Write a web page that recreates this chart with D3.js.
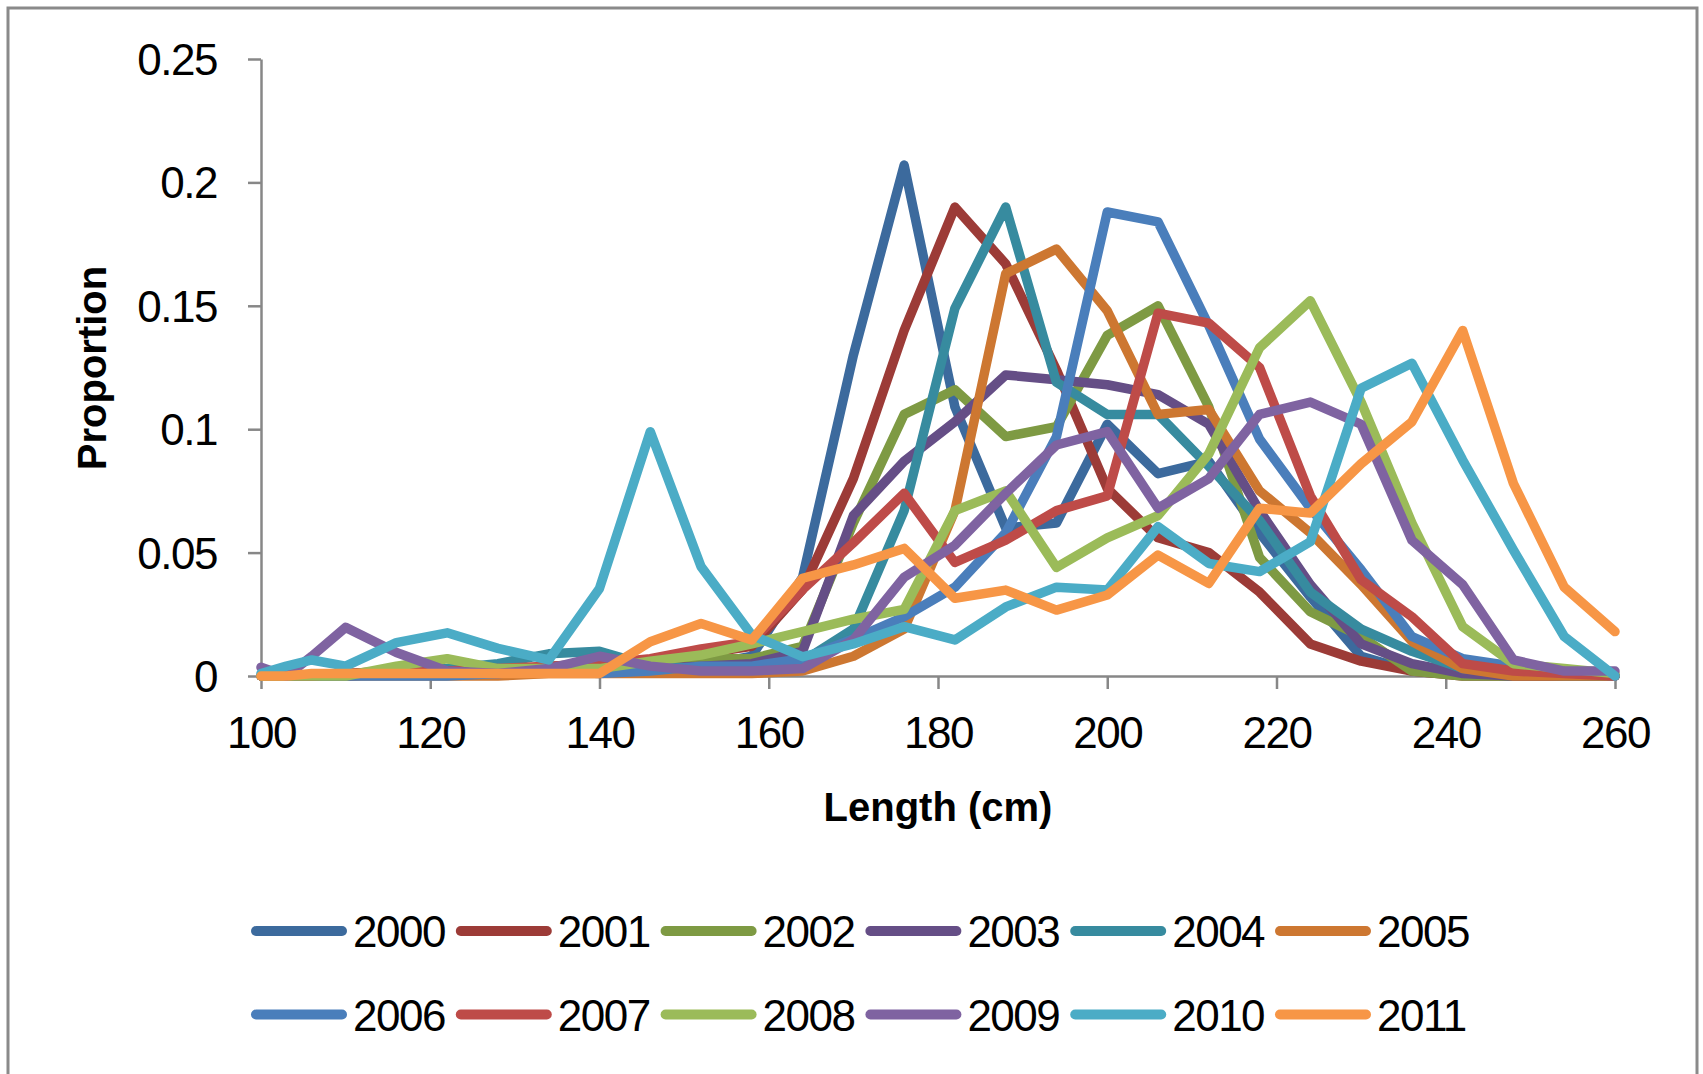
<!DOCTYPE html>
<html><head><meta charset="utf-8">
<script src="https://cdn.jsdelivr.net/npm/d3@7"></script>
<style>body{margin:0;background:#fff;} svg{display:block;}</style>
</head><body>
<script>
// Length classes (cm)
const lengths = [100,103,106,110,116,122,128,134,140,146,152,158,164,170,176,182,188,194,200,206,212,218,224,230,236,242,248,254,260];

const years = ["2000","2001","2002","2003","2004","2005","2006","2007","2008","2009","2010","2011"];

const s2000 = [0,0,0,0,0.001,0.001,0.002,0.004,0.005,0.003,0.004,0.008,0.040,0.130,0.207,0.109,0.060,0.062,0.102,0.082,0.087,0.058,0.032,0.008,0.002,0.001,0,0,0];
const s2001 = [0,0,0,0,0.001,0.001,0.002,0.003,0.004,0.006,0.009,0.012,0.035,0.080,0.140,0.190,0.167,0.124,0.076,0.056,0.050,0.034,0.013,0.006,0.002,0,0,0,0];
const s2002 = [0,0,0,0.001,0.002,0.003,0.002,0.003,0.005,0.006,0.007,0.007,0.012,0.062,0.106,0.116,0.097,0.101,0.138,0.150,0.109,0.048,0.026,0.016,0.002,0,0,0,0];
const s2003 = [0,0,0,0,0.001,0.001,0.002,0.002,0.003,0.003,0.004,0.005,0.010,0.065,0.087,0.103,0.122,0.120,0.118,0.114,0.102,0.067,0.037,0.013,0.005,0.001,0,0,0];
const s2004 = [0,0,0,0,0.002,0.003,0.005,0.009,0.010,0.004,0.003,0.003,0.006,0.019,0.067,0.149,0.190,0.119,0.106,0.106,0.085,0.063,0.034,0.019,0.010,0.003,0.001,0,0];
const s2005 = [0,0,0,0,0,0,0,0.001,0.001,0.001,0.001,0.001,0.002,0.008,0.019,0.067,0.163,0.173,0.148,0.106,0.108,0.075,0.058,0.037,0.014,0.003,0,0,0];
const s2006 = [0,0,0,0,0,0,0.001,0.002,0.001,0.002,0.004,0.004,0.007,0.015,0.024,0.036,0.058,0.097,0.188,0.184,0.142,0.096,0.068,0.043,0.016,0.007,0.004,0.002,0];
const s2007 = [0,0,0,0.001,0.002,0.002,0.003,0.004,0.005,0.007,0.011,0.014,0.035,0.054,0.074,0.046,0.055,0.067,0.073,0.147,0.143,0.125,0.073,0.039,0.024,0.005,0.002,0.001,0];
const s2008 = [0,0,0,0,0.004,0.007,0.003,0.003,0.003,0.006,0.0085,0.013,0.018,0.023,0.027,0.067,0.075,0.044,0.056,0.065,0.090,0.133,0.152,0.111,0.062,0.020,0.005,0.003,0.001];
const s2009 = [0.0035,0,0.008,0.0197,0.0095,0.002,0.001,0.003,0.008,0.004,0.002,0.002,0.003,0.0146,0.040,0.053,0.074,0.0936,0.099,0.068,0.080,0.106,0.111,0.102,0.055,0.037,0.0065,0.002,0.002];
const s2010 = [0.001,0.004,0.0065,0.004,0.0135,0.0175,0.0112,0.0065,0.0355,0.099,0.0443,0.0166,0.0078,0.013,0.020,0.0146,0.028,0.036,0.0348,0.0605,0.0456,0.0423,0.0544,0.1166,0.1267,0.0875,0.051,0.016,0];
const s2011 = [0,0,0.001,0.001,0.001,0.001,0.001,0.001,0.001,0.0139,0.0213,0.0146,0.0396,0.045,0.0517,0.0315,0.0348,0.0267,0.0328,0.049,0.0375,0.068,0.066,0.086,0.103,0.140,0.078,0.036,0.018];

const seriesValues = [s2000,s2001,s2002,s2003,s2004,s2005,s2006,s2007,s2008,s2009,s2010,s2011];
const colors = ["#3C6A9D","#9C3B37","#7E9A43","#654E86","#378B9F","#CD7731","#4A7EBB","#BE4B48","#9BBB59","#7F63A1","#4BACC6","#F79646"];

const xTicks = [100,120,140,160,180,200,220,240,260];
const yTicks = [0,0.05,0.1,0.15,0.2,0.25];
const yTickLabels = ["0","0.05","0.1","0.15","0.2","0.25"];
const xTitle = "Length (cm)";
const yTitle = "Proportion";

const W = 1703, H = 1074;
const FONT = "'Liberation Sans', Arial, sans-serif";
const svg = d3.select("body").append("svg").attr("width", W).attr("height", H);
svg.append("rect").attr("width", W).attr("height", H).attr("fill", "#fff");
svg.append("rect").attr("x", 8).attr("y", 8).attr("width", 1689).attr("height", 1200)
  .attr("fill", "none").attr("stroke", "#8a8a8a").attr("stroke-width", 3);

const x = d3.scaleLinear().domain([100, 260]).range([261, 1615]);
const y = d3.scaleLinear().domain([0, 0.25]).range([676, 59]);

const AX = "#878787";
// Y axis
const gy = svg.append("g").attr("transform", "translate(261,0)")
  .call(d3.axisLeft(y).tickValues(yTicks).tickFormat((d, i) => yTickLabels[i]).tickSize(13).tickSizeOuter(0).tickPadding(31));
// X axis
const gx = svg.append("g").attr("transform", "translate(0,676)")
  .call(d3.axisBottom(x).tickValues(xTicks).tickFormat(d3.format("d")).tickSize(13).tickSizeOuter(0).tickPadding(28));

[gx, gy].forEach(g => {
  g.select(".domain").attr("stroke", AX).attr("stroke-width", 2.5);
  g.selectAll(".tick line").attr("stroke", AX).attr("stroke-width", 2.5);
  g.selectAll(".tick text").attr("fill", "#000").style("font-family", FONT).style("font-size", "44px").style("letter-spacing", "-1.5px");
});
gy.selectAll(".tick text").attr("dy", "0.35em");

// Titles
svg.append("text").attr("x", 938).attr("y", 821).attr("text-anchor", "middle")
  .style("font-family", FONT).style("font-size", "40px").style("font-weight", "bold").text(xTitle);
svg.append("text").attr("transform", "translate(106,368) rotate(-90)").attr("text-anchor", "middle")
  .style("font-family", FONT).style("font-size", "40px").style("font-weight", "bold").text(yTitle);

// Lines
const line = d3.line().x((d, i) => x(lengths[i])).y(d => y(d));
svg.append("g").selectAll("path").data(seriesValues).join("path")
  .attr("d", line).attr("fill", "none").attr("stroke", (d, i) => colors[i])
  .attr("stroke-width", 9.5).attr("stroke-linejoin", "round").attr("stroke-linecap", "round");

// Legend
const leg = svg.append("g");
years.forEach((yr, i) => {
  const col = i % 6, row = Math.floor(i / 6);
  const lx = 251 + col * 204.8, ly = 931 + row * 83.5;
  leg.append("line").attr("x1", lx + 5).attr("x2", lx + 91).attr("y1", ly).attr("y2", ly)
    .attr("stroke", colors[i]).attr("stroke-width", 10).attr("stroke-linecap", "round");
  leg.append("text").attr("x", lx + 102).attr("y", ly + 16)
    .style("font-family", FONT).style("font-size", "44px").style("letter-spacing", "-1.5px").text(yr);
});
</script>
</body></html>
